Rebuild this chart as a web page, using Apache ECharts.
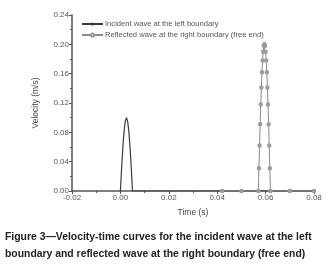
<!DOCTYPE html>
<html>
<head>
<meta charset="utf-8">
<script src="https://cdn.jsdelivr.net/npm/echarts@6/dist/echarts.min.js"></script>
<style>
    html, body { margin: 0; padding: 0; background: #fff; }
    #chart { width: 328px; height: 275px; }
</style>
</head>
<body>
<div id="chart"></div>
<script>
// 入射波 (left boundary)
var incidentTime = [0, 0.0005, 0.001, 0.0015, 0.002, 0.0025, 0.003, 0.0035, 0.004, 0.0045, 0.005, 0.042, 0.08];
var incidentVel = [0, 0.031, 0.059, 0.081, 0.095, 0.100, 0.095, 0.081, 0.059, 0.031, 0, 0, 0];

// 反射波 (right boundary, free end)
var reflectedTime = [0.042, 0.05, 0.057, 0.05725, 0.0575, 0.05775, 0.058, 0.05825, 0.0585, 0.05875, 0.059, 0.05925, 0.0595,
    0.05975, 0.06, 0.06025, 0.0605, 0.06075, 0.061, 0.06125, 0.0615, 0.06175, 0.062, 0.07, 0.08];
var reflectedVel = [0, 0, 0, 0.031, 0.062, 0.091, 0.118, 0.141, 0.162, 0.178, 0.190, 0.198, 0.200,
    0.198, 0.190, 0.178, 0.162, 0.141, 0.118, 0.091, 0.062, 0.031, 0, 0, 0];

var seriesNames = ['Incident wave at the left boundary', 'Reflected wave at the right boundary (free end)'];
var captionLines = ['Figure 3\u2014Velocity-time curves for the incident wave at the left',
    'boundary and reflected wave at the right boundary (free end)'];

function pairs(xs, ys) {
    var out = [];
    xs.forEach(function (x, i) { out.push([x, ys[i]]); });
    return out;
}

var axisColor = '#555';
var myChart = echarts.init(document.getElementById('chart'));
var option = {
    animation: false,
    textStyle: { fontFamily: 'Liberation Sans, sans-serif' },
    grid: { left: 72, right: 14, top: 15, bottom: 84 },
    legend: {
        orient: 'vertical',
        left: 76,
        top: 15,
        itemGap: 3,
        itemWidth: 21,
        itemHeight: 4,
        textStyle: { fontSize: 7.6, color: '#555', padding: [0, 0, 0, -3] },
        data: seriesNames
    },
    title: {
        text: captionLines.join('\n'),
        left: 0,
        top: 224,
        textStyle: { fontSize: 10.4, fontWeight: 'bold', color: '#222', lineHeight: 17,
            fontFamily: 'Liberation Sans, sans-serif' }
    },
    xAxis: {
        type: 'value',
        min: -0.02,
        max: 0.08,
        interval: 0.02,
        name: 'Time (s)',
        nameLocation: 'middle',
        nameGap: 17,
        nameTextStyle: { fontSize: 8.5, color: '#444' },
        axisLine: { lineStyle: { color: axisColor, width: 1.5 } },
        axisTick: { show: true, length: 3, lineStyle: { color: axisColor } },
        minorTick: { show: true, splitNumber: 2, length: 2, lineStyle: { color: axisColor } },
        splitLine: { show: false },
        axisLabel: { fontSize: 8, color: '#555', margin: 3, formatter: function (v) { return v.toFixed(2); } }
    },
    yAxis: {
        type: 'value',
        min: 0,
        max: 0.24,
        interval: 0.04,
        name: 'Velocity (m/s)',
        nameLocation: 'middle',
        nameGap: 32,
        nameTextStyle: { fontSize: 8.5, color: '#444' },
        axisLine: { show: true, onZero: false, lineStyle: { color: axisColor, width: 1.5 } },
        axisTick: { show: true, length: 3, lineStyle: { color: axisColor } },
        minorTick: { show: true, splitNumber: 2, length: 2, lineStyle: { color: axisColor } },
        splitLine: { show: false },
        axisLabel: { fontSize: 8, color: '#555', margin: 3, formatter: function (v) { return v.toFixed(2); } }
    },
    series: [{
        name: seriesNames[0],
        type: 'line',
        symbol: 'none',
        lineStyle: { color: '#3a3a3a', width: 1.2 },
        itemStyle: { color: '#3a3a3a' },
        data: pairs(incidentTime, incidentVel)
    }, {
        name: seriesNames[1],
        type: 'line',
        symbol: 'emptyCircle',
        symbolSize: 2.5,
        showAllSymbol: true,
        lineStyle: { color: '#8a8a8a', width: 1 },
        itemStyle: { color: '#999', borderWidth: 0.7 },
        data: pairs(reflectedTime, reflectedVel)
    }]
};
myChart.setOption(option);
</script>
</body>
</html>
